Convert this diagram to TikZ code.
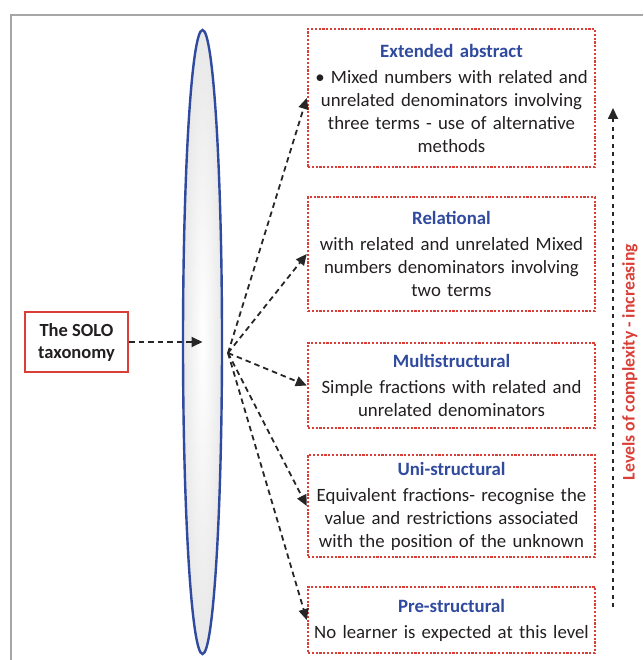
\documentclass[tikz,border=0pt]{standalone}
\usepackage{fontspec}
\setmainfont{Carlito}
\usetikzlibrary{arrows.meta,shapes.geometric}

\definecolor{solored}{HTML}{D93F37}
\definecolor{soloblue}{HTML}{2F4A9E}
\definecolor{soloink}{HTML}{231F20}

\newcommand\leveltitle[1]{{\bfseries\color{soloblue}#1}\\[3pt]}

\begin{document}
\begin{tikzpicture}[x=1pt, y=-1pt,
    level/.style={draw=solored, line width=2.5pt, dash pattern=on 2.2pt off 1.6pt,
        minimum width=287pt, text width=284pt, align=center, inner sep=0pt,
        text=soloink, font=\fontsize{18.8}{23}\selectfont},
    link/.style={draw=black!85, line width=1.8pt, dash pattern=on 5.5pt off 4pt,
        -{Triangle[length=11pt,width=10pt]}},
]
    \useasboundingbox (0,0) rectangle (643,660);

    % Frame
    \draw[black!35, line width=1.2pt] (11,660) -- (11,15) -- (643,15);

    % Lens
    \node[ellipse, draw=soloblue, line width=2.4pt, inner sep=0pt,
        minimum width=39pt, minimum height=624pt,
        inner color=white, outer color=black!9] (lens) at (202.5,342) {};
    \coordinate (fan) at (228,353);

    % Taxonomy box
    \node[draw=solored, line width=2.2pt, minimum width=103pt, minimum height=60pt,
        align=center, text=soloink, font=\bfseries\fontsize{18.5}{22}\selectfont]
        (solo) at (76.5,342) {The SOLO\\taxonomy};

    % Levels
    \node[level, minimum height=138pt] (ext) at (451.5,98)
        {\leveltitle{Extended abstract}\textbullet\ Mixed numbers with related and\\
         unrelated denominators involving\\ three terms - use of alternative\\ methods};
    \node[level, minimum height=114pt] (rel) at (451.5,254)
        {\leveltitle{Relational}with related and unrelated Mixed\\
         numbers denominators involving\\ two terms};
    \node[level, minimum height=85pt] (multi) at (451.5,385.5)
        {\leveltitle{Multistructural}Simple fractions with related and\\
         unrelated denominators};
    \node[level, minimum height=102pt] (uni) at (451.5,506)
        {\leveltitle{Uni-structural}Equivalent fractions- recognise the\\
         value and restrictions associated\\ with the position of the unknown};
    \node[level, minimum height=66pt] (pre) at (451.5,620)
        {\leveltitle{Pre-structural}No learner is expected at this level};

    % Arrows
    \draw[link] (solo) -- (lens.center);
    \foreach \target in {ext,rel,multi,uni,pre}
        \draw[link] (fan) -- (\target.west);

    % Complexity axis
    \coordinate (low) at (613,607);
    \coordinate (high) at (613,108);
    \draw[link, dash pattern=on 4pt off 4.5pt] (low) -- (high);
    \node[rotate=90, text=solored, font=\bfseries\fontsize{17.7}{20}\selectfont]
        (axis) at (630,362) {Levels of complexity - increasing};
\end{tikzpicture}
\end{document}
